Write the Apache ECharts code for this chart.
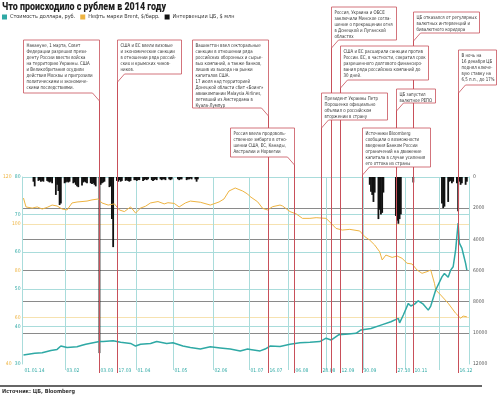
<!DOCTYPE html>
<html>
<head>
<meta charset="utf-8">
<script src="https://cdn.jsdelivr.net/npm/echarts@6/dist/echarts.min.js"></script>
<style>
html, body { margin: 0; padding: 0; background: #fff; }
#chart { width: 500px; height: 397px; }
</style>
</head>
<body>
<div id="chart"></div>
<script>

var titleText = 'Что происходило с рублем в 2014 году';
var sourceText = 'Источник: ЦБ, Bloomberg';
var seriesNames = ['Стоимость доллара, руб.', 'Нефть марки Brent, $/барр.', 'Интервенции ЦБ, $ млн'];

// курс доллара
var usdDates = ['2014-01-01','2014-01-10','2014-01-16','2014-01-23','2014-01-28','2014-01-31','2014-02-05','2014-02-13','2014-02-17','2014-02-20','2014-02-26','2014-03-03','2014-03-06','2014-03-14','2014-03-20','2014-03-28','2014-04-01','2014-04-05','2014-04-13','2014-04-18','2014-04-26','2014-05-01','2014-05-09','2014-05-15','2014-05-23','2014-05-31','2014-06-08','2014-06-16','2014-06-24','2014-06-30','2014-07-02','2014-07-10','2014-07-14','2014-07-18','2014-07-26','2014-08-03','2014-08-11','2014-08-19','2014-08-27','2014-09-01','2014-09-05','2014-09-11','2014-09-19','2014-09-25','2014-09-29','2014-10-07','2014-10-15','2014-10-23','2014-10-29','2014-10-30','2014-11-02','2014-11-06','2014-11-08','2014-11-11','2014-11-14','2014-11-18','2014-11-22','2014-11-24','2014-11-28','2014-12-03','2014-12-05','2014-12-08','2014-12-10','2014-12-12','2014-12-14','2014-12-16','2014-12-17','2014-12-19','2014-12-20','2014-12-22','2014-12-23'];
var usdValues = [32.4,32.9,33.0,33.6,33.9,34.8,34.4,34.6,35.0,35.3,35.7,36.0,36.0,36.2,35.8,35.5,34.8,35.3,35.5,36.0,35.5,35.7,34.8,34.4,34.0,34.6,34.3,34.0,33.5,34.0,33.9,33.5,34.0,34.8,34.7,35.3,35.7,35.8,36.0,36.9,36.4,37.8,38.0,38.2,39.1,39.5,40.4,41.3,42.2,41.0,43.1,46.2,45.5,46.0,46.9,46.0,44.4,45.5,49.8,53.3,54.2,53.2,55.1,56.0,60.5,67.7,62.3,61.0,59.6,56.9,55.1];

// нефть Brent
var oilDates = ['2014-01-01','2014-01-03','2014-01-08','2014-01-12','2014-01-16','2014-01-20','2014-01-24','2014-01-28','2014-02-01','2014-02-05','2014-02-09','2014-02-13','2014-02-21','2014-02-25','2014-03-02','2014-03-05','2014-03-10','2014-03-15','2014-03-19','2014-03-23','2014-03-28','2014-04-01','2014-04-05','2014-04-09','2014-04-13','2014-04-19','2014-04-24','2014-04-27','2014-05-02','2014-05-06','2014-05-11','2014-05-15','2014-05-23','2014-05-31','2014-06-07','2014-06-11','2014-06-15','2014-06-20','2014-06-26','2014-06-30','2014-07-02','2014-07-08','2014-07-12','2014-07-16','2014-07-20','2014-07-26','2014-07-28','2014-08-03','2014-08-08','2014-08-13','2014-08-19','2014-08-24','2014-09-01','2014-09-05','2014-09-09','2014-09-14','2014-09-20','2014-09-28','2014-10-02','2014-10-06','2014-10-10','2014-10-14','2014-10-16','2014-10-19','2014-10-24','2014-10-28','2014-11-01','2014-11-05','2014-11-09','2014-11-13','2014-11-17','2014-11-21','2014-11-24','2014-11-27','2014-11-28','2014-12-02','2014-12-08','2014-12-14','2014-12-18','2014-12-20','2014-12-23'];
var oilValues = [111.0,107.2,106.7,107.2,106.3,107.0,108.0,107.6,106.3,105.9,108.9,109.3,109.7,110.2,110.6,108.9,108.0,108.5,105.9,105.2,107.2,104.6,106.7,107.5,108.9,109.5,108.5,109.0,108.7,107.2,108.9,109.7,109.2,108.0,109.3,110.6,114.0,115.3,114.0,112.7,111.6,109.4,106.6,105.9,107.3,108.0,107.6,105.2,104.2,102.3,102.3,102.6,102.3,100.2,98.0,97.3,97.6,96.9,94.5,93.0,90.9,88.0,84.5,86.6,85.6,86.2,85.2,83.1,82.8,80.2,78.8,79.5,80.2,74.5,71.7,69.5,66.0,61.7,59.6,60.5,60.2];

// интервенции ЦБ, $ млн
var fxDates = ['2014-01-09','2014-01-10','2014-01-13','2014-01-14','2014-01-15','2014-01-16','2014-01-17','2014-01-20','2014-01-21','2014-01-22','2014-01-23','2014-01-24','2014-01-27','2014-01-28','2014-01-29','2014-01-30','2014-01-31',
  '2014-02-03','2014-02-04','2014-02-05','2014-02-06','2014-02-07','2014-02-10','2014-02-11','2014-02-12','2014-02-13','2014-02-14','2014-02-17','2014-02-18','2014-02-19','2014-02-20','2014-02-21','2014-02-24','2014-02-25','2014-02-26','2014-02-27','2014-02-28',
  '2014-03-03','2014-03-04','2014-03-05','2014-03-06','2014-03-07','2014-03-11','2014-03-12','2014-03-13','2014-03-14','2014-03-17','2014-03-18','2014-03-19','2014-03-20','2014-03-21','2014-03-24','2014-03-25','2014-03-26','2014-03-27','2014-03-28','2014-03-31',
  '2014-04-01','2014-04-02','2014-04-03','2014-04-04','2014-04-07','2014-04-08','2014-04-09','2014-04-10','2014-04-11','2014-04-14','2014-04-15','2014-04-16','2014-04-17','2014-04-18','2014-04-21','2014-04-22','2014-04-23','2014-04-24','2014-04-25','2014-04-28','2014-04-29','2014-04-30',
  '2014-05-05','2014-05-06','2014-05-07','2014-05-08','2014-05-12','2014-05-13','2014-05-14','2014-05-15','2014-05-16','2014-05-19','2014-05-20','2014-05-21',
  '2014-10-06','2014-10-07','2014-10-08','2014-10-09','2014-10-10','2014-10-13','2014-10-14','2014-10-15','2014-10-16','2014-10-17',
  '2014-10-27','2014-10-28','2014-10-29','2014-10-30','2014-10-31','2014-11-10',
  '2014-12-03','2014-12-04','2014-12-05','2014-12-08','2014-12-09','2014-12-10','2014-12-11','2014-12-12','2014-12-15','2014-12-16','2014-12-17','2014-12-18','2014-12-19','2014-12-22','2014-12-23'];
var fxValues = [300,600,250,200,300,250,300,250,300,350,300,400,1150,500,900,1800,1700,
  400,350,300,350,300,400,350,500,600,650,550,350,300,350,400,400,450,400,500,600,
  11300,500,400,350,300,650,600,2700,4500,250,300,200,300,250,250,200,250,300,250,200,
  200,250,200,200,250,200,150,200,150,200,250,200,150,200,150,200,150,150,200,150,200,150,
  150,200,150,150,200,150,150,100,150,150,300,150,
  500,950,1150,1600,1000,2700,2100,2400,2300,1000,
  2500,2800,3000,2700,2400,350,
  1700,2000,1900,1600,300,250,400,300,400,2200,300,500,400,500,300];

// подписи и линии по оси дат
var monthLines = ['2014-02-03','2014-03-03','2014-04-01','2014-05-01','2014-06-02','2014-07-01','2014-08-01','2014-09-01','2014-10-01','2014-11-03','2014-12-01'];
var axisDates = ['2014-01-01','2014-02-03','2014-03-03','2014-03-17','2014-04-01','2014-05-01','2014-06-02','2014-07-01','2014-07-16','2014-08-06','2014-08-28','2014-09-12','2014-09-30','2014-10-27','2014-11-10','2014-12-16'];
var axisLabels = ['01.01.14','03.02','03.03','17.03','01.04','01.05','02.06','01.07','16.07','06.08','28.08','12.09','30.09','27.10','10.11','16.12'];

// события
var eventDates = ['2014-03-03','2014-03-17','2014-07-16','2014-08-06','2014-08-28','2014-09-05','2014-09-12','2014-09-30','2014-10-27','2014-11-10','2014-12-16'];
var eventNotes = [
  'Накануне, 1 марта, Совет\nФедерации разрешил прези-\nденту России ввести войска\nна территорию Украины. США\nи Великобритания осудили\nдействия Москвы и пригрозили\nполитическими и экономиче-\nскими последствиями.',
  'США и ЕС ввели визовые\nи экономические санкции\nв отношении ряда россий-\nских и крымских чинов-\nников.',
  'Вашингтон ввел секторальные\nсанкции в отношении ряда\nроссийских оборонных и сырье-\nвых компаний, а также банков,\nлишив их выхода на рынки\nкапиталов США.\n17 июля над территорией\nДонецкой области сбит «Боинг»\nавиакомпании Malaysia Airlines,\nлетевший из Амстердама в\nКуала-Лумпур',
  'Россия ввела продоволь-\nственное эмбарго в отно-\nшении США, ЕС, Канады,\nАвстралии и Норвегии',
  'Президент Украины Петр\nПорошенко официально\nобъявил о российском\nвторжении в страну',
  'Россия, Украина и ОБСЕ\nзаключили Минское согла-\nшение о прекращении огня\nв Донецкой и Луганской\nобластях',
  'США и ЕС расширили санкции против\nРоссии. ЕС, в частности, сократил срок\nразрешенного долгового финансиро-\nвания ряда российских компаний до\n30 дней.',
  'Источники Bloomberg\nсообщили о возможности\nвведения Банком России\nограничений на движение\nкапитала в случае усиления\nего оттока из страны',
  'ЦБ запустил\nвалютное РЕПО',
  'ЦБ отказался от регулярных\nвалютных интервенций и\nбивалютного коридора',
  'В ночь на\n16 декабря ЦБ\nподнял ключе-\nвую ставку на\n6,5 п.п., до 17%'
];
// раскладка выносок: сторона линии, ширина, верх, низ
var noteLayout = [
  {side: 'right', w: 76, top: 40, bottom: 93},
  {side: 'left', w: 64, top: 40, bottom: 74},
  {side: 'right', w: 76, top: 40, bottom: 108},
  {side: 'right', w: 64, top: 128, bottom: 157},
  {side: 'left', w: 66, top: 93, bottom: 120},
  {side: 'left', w: 65, top: 7, bottom: 40},
  {side: 'left', w: 88, top: 46, bottom: 80},
  {side: 'left', w: 68, top: 128, bottom: 167},
  {side: 'left', w: 39, top: 89, bottom: 103},
  {side: 'left', w: 66, top: 12, bottom: 33},
  {side: 'left', w: 38, top: 50, bottom: 85}
];

var FONT = "'Liberation Sans Narrow', 'DejaVu Sans Condensed', 'Roboto', sans-serif";
var CYAN = '#2fa9a5', CYAN_L = '#a9dcdb', ORANGE = '#eeb442', ORANGE_L = '#f6e2b0', RED = '#c8505a';

function zip(d, v) {
    return d.map(function (x, i) { return [x, v[i]]; });
}
function xPix(d) {
    return Math.round(chart.convertToPixel({xAxisIndex: 0}, +echarts.number.parseDate(d))) + 0.5;
}

var chart = echarts.init(document.getElementById('chart'));

var option = {
    animation: false,
    backgroundColor: '#fff',
    legend: {
        left: 2, top: 14, padding: 0, itemGap: 5, itemWidth: 5, itemHeight: 5, icon: 'rect',
        data: seriesNames,
        textStyle: {fontSize: 5.5, fontFamily: FONT, color: '#333', padding: [0, 0, 0, -2]}
    },
    grid: {left: 21, right: 31, top: 177, bottom: 33},
    xAxis: {
        type: 'time', min: '2014-01-01', max: '2014-12-24',
        axisLine: {show: false},
        axisTick: {show: false},
        splitLine: {show: false},
        axisLabel: {show: false}
    },
    yAxis: [
        {
            type: 'value', min: 30, max: 80, interval: 10, position: 'left',
            axisLine: {show: true, lineStyle: {color: CYAN_L}},
            axisTick: {show: false},
            axisLabel: {fontSize: 5, fontFamily: FONT, color: CYAN, margin: 2},
            splitLine: {show: true, showMinLine: false, lineStyle: {color: CYAN_L}}
        },
        {
            type: 'value', min: 40, max: 120, interval: 20, position: 'left',
            axisLine: {show: false}, axisTick: {show: false},
            axisLabel: {
                fontSize: 5, fontFamily: FONT, color: ORANGE, margin: 2,
                formatter: function (v) { return (v === 40 || v === 120) ? '{e|' + v + '}' : '' + v; },
                rich: {e: {fontSize: 5, fontFamily: FONT, color: ORANGE, padding: [0, 9, 0, 0]}}
            },
            splitLine: {show: true, showMinLine: false, showMaxLine: false, lineStyle: {color: ORANGE_L}}
        },
        {
            type: 'value', min: 0, max: 12000, interval: 2000, position: 'right', inverse: true,
            axisLine: {show: true, lineStyle: {color: CYAN_L}},
            axisTick: {show: false},
            axisLabel: {fontSize: 5, fontFamily: FONT, color: '#555', margin: 4,
                formatter: function (v) { return String(v); }},
            splitLine: {show: true, showMinLine: false, showMaxLine: false, lineStyle: {color: '#8a8a8a'}}
        }
    ],
    series: [
        {
            name: seriesNames[2], type: 'bar', yAxisIndex: 2, barWidth: 1.8,
            itemStyle: {color: '#111'},
            data: zip(fxDates, fxValues), z: 3
        },
        {
            name: seriesNames[1], type: 'line', yAxisIndex: 1, symbol: 'none',
            lineStyle: {color: ORANGE, width: 1}, itemStyle: {color: ORANGE},
            data: zip(oilDates, oilValues), z: 4
        },
        {
            name: seriesNames[0], type: 'line', yAxisIndex: 0, symbol: 'none',
            lineStyle: {color: CYAN, width: 1.5}, itemStyle: {color: CYAN},
            data: zip(usdDates, usdValues), z: 5
        }
    ]
};
chart.setOption(option);

var graphics = [];
var gridTop = 177, lineBottom = 373;

// заголовок, сжатый по ширине
var ctx = document.createElement('canvas').getContext('2d');
ctx.font = "900 11px Roboto";
var titleScale = 164 / ctx.measureText(titleText).width;
graphics.push({
    type: 'text', z: 10, x: 2, y: 2, scaleX: titleScale,
    style: {text: titleText, fontSize: 11, fontWeight: 900, fontFamily: 'Roboto', fill: '#1e1e1e'}
});

// месячные линии
monthLines.forEach(function (d) {
    var x = xPix(d);
    graphics.push({
        type: 'line', z: 1, silent: true,
        shape: {x1: x, y1: gridTop, x2: x, y2: 370},
        style: {stroke: CYAN_L, lineWidth: 1}
    });
});
// подписи дат
axisDates.forEach(function (d, i) {
    graphics.push({
        type: 'text', z: 20, left: xPix(d) + 1, top: 368,
        style: {text: axisLabels[i], fontSize: 5, fontFamily: FONT, fill: CYAN}
    });
});
// выноски и красные линии событий
eventDates.forEach(function (d, i) {
    var lx = xPix(d);
    var L = noteLayout[i];
    var x0, x1, pts, tipY = L.bottom + 8;
    if (L.side === 'right') {
        x1 = lx; x0 = lx - L.w;
        pts = [[x0, L.top], [x1, L.top], [x1, tipY], [x1 - 7, L.bottom], [x0, L.bottom]];
    } else {
        x0 = lx; x1 = lx + L.w;
        pts = [[x0, L.top], [x1, L.top], [x1, L.bottom], [x0 + 7, L.bottom], [x0, tipY]];
    }
    graphics.push({
        type: 'line', z: 50,
        shape: {x1: lx, y1: tipY, x2: lx, y2: lineBottom},
        style: {stroke: RED, lineWidth: 1}
    });
    graphics.push({
        type: 'polygon', z: 60,
        shape: {points: pts},
        style: {fill: '#fff', stroke: RED, lineWidth: 0.8}
    });
    graphics.push({
        type: 'text', z: 61, x: x0 + 3, y: L.top + 3, scaleX: 0.88,
        style: {text: eventNotes[i], fontSize: 5, lineHeight: 6, fontFamily: FONT, fill: '#333'}
    });
});
graphics.push({
    type: 'line', z: 10,
    shape: {x1: 0, y1: 386, x2: 482, y2: 386},
    style: {stroke: '#333', lineWidth: 1.5}
});
graphics.push({
    type: 'text', z: 10, left: 2, top: 389,
    style: {text: sourceText, fontSize: 5.5, fontWeight: 'bold', fontFamily: FONT, fill: '#333'}
});
chart.setOption({graphic: graphics});

</script>
</body>
</html>
